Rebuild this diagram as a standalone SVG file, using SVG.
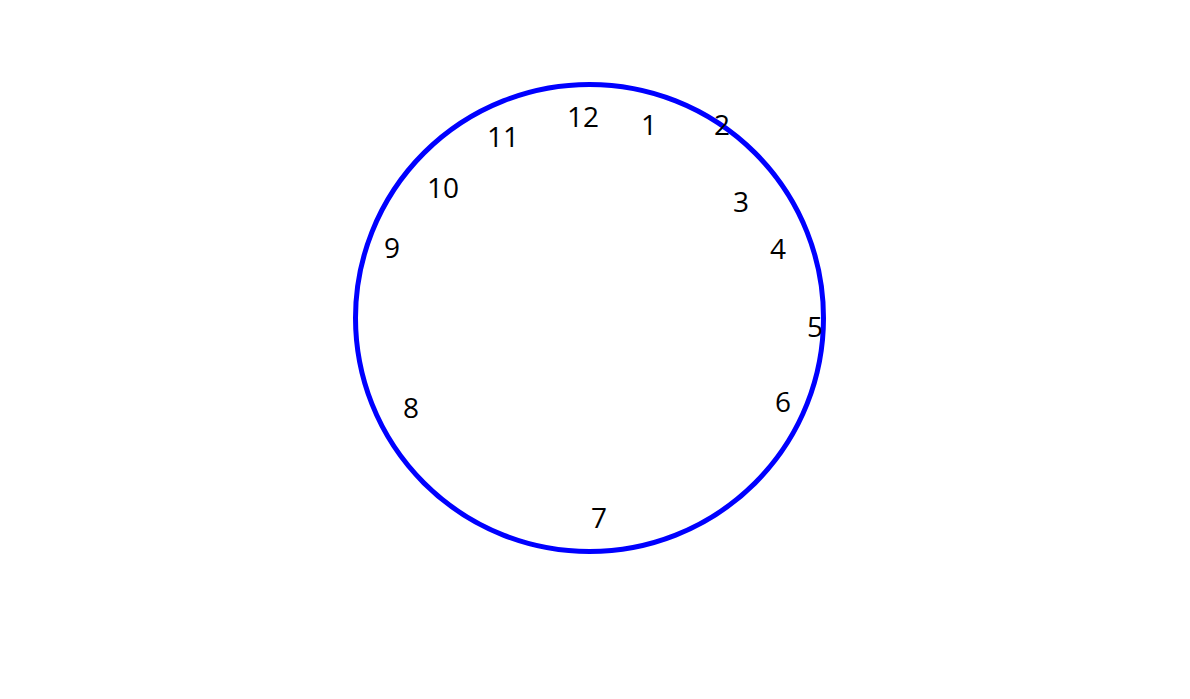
<svg xmlns="http://www.w3.org/2000/svg" width="1190" height="699" viewBox="0 0 1190 699">
<style>
.num{font-family:"Open Sans","Noto Sans",sans-serif;font-size:28px;fill:#000;text-anchor:middle}
.face{fill:none;stroke:#0000ff;stroke-width:5}
</style>
<rect width="1190" height="699" fill="#fff"/>
<g id="clock-face"><ellipse class="face" cx="589.5" cy="318" rx="234" ry="233.5"/></g>
<g id="connectors"></g>
<g id="n12"><text class="num" x="583" y="127">12</text></g>
<g id="n1"><text class="num" x="649" y="135">1</text></g>
<g id="n2"><text class="num" x="722" y="135">2</text></g>
<g id="n3"><text class="num" x="741" y="212">3</text></g>
<g id="n4"><text class="num" x="778" y="259">4</text></g>
<g id="n5"><text class="num" x="815" y="337">5</text></g>
<g id="n6"><text class="num" x="783" y="412">6</text></g>
<g id="n7"><text class="num" x="599" y="528">7</text></g>
<g id="n8"><text class="num" x="411" y="418">8</text></g>
<g id="n9"><text class="num" x="392" y="258">9</text></g>
<g id="n10"><text class="num" x="443" y="198">10</text></g>
<g id="n11"><text class="num" x="503" y="147">11</text></g>
</svg>
